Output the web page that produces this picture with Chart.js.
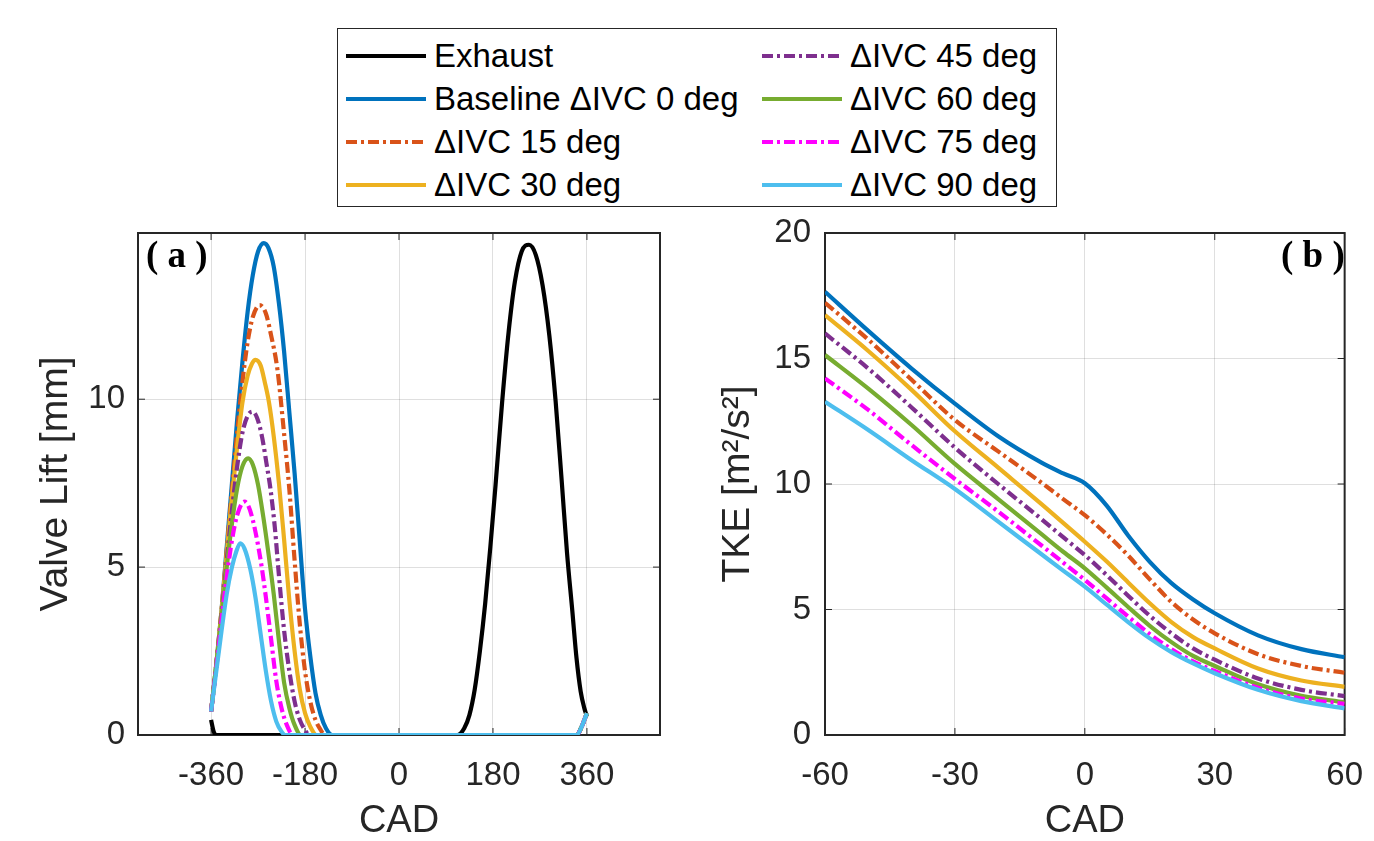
<!DOCTYPE html>
<html lang="en">
<head>
<meta charset="UTF-8">
<title>Valve lift and TKE vs CAD</title>
<style>
  body { margin: 0; background: #fff; font-family: "Liberation Sans", Arial, sans-serif; }
  #wrap { position: relative; width: 1374px; height: 841px; overflow: hidden; background: #fff; }
  canvas { position: absolute; }
  #chartA { left: 0; top: 190px; }
  #chartB { left: 690px; top: 190px; }
  #legend { position: absolute; left: 337px; top: 28px; width: 718px; height: 177px; border: 1.5px solid #262626; background: #fff; }
  .item { position: absolute; height: 40px; display: flex; align-items: center; font-size: 33px; color: #000; white-space: nowrap; }
  .item svg { margin-right: 8px; }
  .tag { position: absolute; top: 236px; font-family: "Liberation Serif", "Times New Roman", serif; font-weight: bold; font-size: 37px; line-height: 1; color: #000; white-space: pre; }
</style>
</head>
<body>
<div id="wrap">
  <div id="legend"></div>
  <canvas id="chartA" width="690" height="651"></canvas>
  <canvas id="chartB" width="694" height="651"></canvas>
  <div class="tag" style="left:146px">( a )</div>
  <div class="tag" style="left:1281px">( b )</div>
</div>

<script src="https://cdn.jsdelivr.net/npm/chart.js"></script>
<script>
  // legend / series
  const names = ["Exhaust", "Baseline \u0394IVC 0 deg", "\u0394IVC 15 deg", "\u0394IVC 30 deg",
                 "\u0394IVC 45 deg", "\u0394IVC 60 deg", "\u0394IVC 75 deg", "\u0394IVC 90 deg"];
  const colors = ["#000000", "#0072BD", "#D95319", "#EDB120", "#7E2F8E", "#77AC30", "#FF00FF", "#4DBEEE"];
  const dashes = [[], [], [11, 4, 3, 4], [], [11, 4, 3, 4], [], [11, 4, 3, 4], []];

  // (a) valve lift [mm] vs CAD
  const xTicksA = [-360, -180, 0, 180, 360];
  const yTicksA = [0, 5, 10];

  const cadEx  = [-360, -355, -350, 112, 125, 135, 145, 155, 165, 175, 185, 197.5, 210, 222, 235, 249, 262, 275, 288, 300, 312, 322, 332, 340, 348, 355, 360];
  const liftEx = [0.45, 0.1, 0, 0, 0.2, 0.6, 1.35, 2.5, 3.9, 5.6, 7.45, 9.9, 12.0, 13.5, 14.4, 14.6, 14.3, 13.4, 11.9, 9.95, 7.5, 5.4, 3.7, 2.3, 1.3, 0.8, 0.55];

  const cad0  = [-360, -350, -340, -330, -320, -310, -300, -290, -280, -270, -259, -250, -240, -230, -220, -210, -200, -190, -180, -170, -160, -150, -140, -128, 340, 350, 360];
  const lift0 = [0.7, 2.1, 3.7, 5.6, 7.5, 9.4, 11.1, 12.6, 13.7, 14.4, 14.65, 14.5, 13.95, 12.85, 11.4, 9.6, 7.8, 5.75, 3.75, 2.35, 1.25, 0.6, 0.2, 0, 0, 0.25, 0.65];

  const cad15  = [-360, -350, -340, -330, -320, -310, -300, -290, -280, -267, -255, -245, -233, -220, -210, -200, -190, -180, -170, -160, -150, -143, 340, 350, 360];
  const lift15 = [0.7, 2.1, 3.7, 5.5, 7.3, 9.0, 10.5, 11.7, 12.45, 12.8, 12.55, 11.9, 10.9, 8.95, 7.3, 5.2, 3.3, 1.9, 1.0, 0.45, 0.15, 0, 0, 0.25, 0.65];

  const cad30  = [-360, -350, -340, -330, -320, -310, -300, -290, -282, -275, -265, -257, -249, -240, -230, -220, -210, -200, -190, -180, -170, -158, 340, 350, 360];
  const lift30 = [0.7, 2.1, 3.7, 5.4, 7.1, 8.6, 9.9, 10.7, 11.05, 11.17, 11.0, 10.5, 9.9, 8.9, 7.5, 5.8, 4.0, 2.5, 1.35, 0.65, 0.25, 0, 0, 0.25, 0.65];

  const cad45  = [-360, -350, -340, -330, -320, -310, -300, -290, -281, -272, -262, -254, -246, -238, -230, -220, -210, -200, -190, -180, -173, 340, 350, 360];
  const lift45 = [0.7, 2.1, 3.6, 5.2, 6.7, 8.0, 9.0, 9.5, 9.63, 9.45, 8.85, 8.1, 7.3, 6.2, 4.75, 3.1, 1.9, 1.0, 0.45, 0.15, 0, 0, 0.25, 0.65];

  const cad60  = [-360, -350, -340, -330, -320, -310, -300, -289, -280, -270, -260, -250, -240, -230, -220, -210, -200, -188, 340, 350, 360];
  const lift60 = [0.7, 2.1, 3.5, 5.0, 6.3, 7.35, 8.0, 8.24, 8.05, 7.45, 6.5, 5.4, 4.2, 2.8, 1.55, 0.8, 0.3, 0, 0, 0.25, 0.65];

  const cad75  = [-360, -350, -340, -330, -320, -310, -296, -288, -280, -270, -263, -255, -245, -235, -225, -215, -203, 340, 350, 360];
  const lift75 = [0.7, 2.0, 3.4, 4.7, 5.8, 6.55, 6.95, 6.8, 6.4, 5.65, 5.0, 4.1, 2.85, 1.6, 0.8, 0.3, 0, 0, 0.25, 0.65];

  const cad90  = [-360, -350, -340, -330, -320, -312, -304, -296, -285, -275, -265, -255, -245, -235, -225, -218, 340, 350, 360];
  const lift90 = [0.7, 1.9, 3.1, 4.2, 5.0, 5.45, 5.71, 5.55, 4.95, 4.1, 3.0, 1.9, 1.0, 0.4, 0.1, 0, 0, 0.25, 0.65];

  // (b) TKE [m2/s2] vs CAD
  const cadB    = [-60, -50, -40, -30, -20, -10, -5, 0, 5, 10, 15, 20, 25, 30, 40, 50, 60];
  const tkeBase = [17.66, 16.1, 14.6, 13.2, 11.9, 10.85, 10.42, 10.03, 9.15, 7.95, 6.9, 6.05, 5.4, 4.85, 3.97, 3.42, 3.1];
  const tke15   = [17.22, 15.75, 14.15, 12.55, 11.3, 10.05, 9.4, 8.76, 8.0, 7.15, 6.2, 5.3, 4.6, 4.05, 3.22, 2.75, 2.48];
  const tke30   = [16.73, 15.3, 13.75, 12.1, 10.65, 9.2, 8.45, 7.7, 6.92, 6.08, 5.25, 4.5, 3.9, 3.45, 2.65, 2.17, 1.92];
  const tke45   = [16.0, 14.6, 13.05, 11.45, 10.0, 8.6, 7.88, 7.17, 6.38, 5.55, 4.75, 4.05, 3.45, 3.0, 2.25, 1.8, 1.55];
  const tke60   = [15.14, 13.8, 12.35, 10.8, 9.4, 8.0, 7.3, 6.64, 5.88, 5.1, 4.35, 3.7, 3.15, 2.75, 2.02, 1.56, 1.3];
  const tke75   = [14.21, 12.95, 11.55, 10.2, 8.9, 7.55, 6.87, 6.18, 5.45, 4.72, 4.02, 3.42, 2.93, 2.55, 1.88, 1.45, 1.24];
  const tke90   = [13.28, 12.15, 10.95, 9.8, 8.5, 7.2, 6.55, 5.91, 5.2, 4.5, 3.85, 3.3, 2.85, 2.46, 1.8, 1.35, 1.06];

  const family = "'Liberation Sans', Arial, sans-serif";
  const axisColor = "#262626";
  const gridColor = "rgba(38,38,38,0.15)";

  // legend box (two columns, filled column-wise)
  const legend = document.getElementById("legend");
  names.forEach((name, i) => {
    const col = Math.floor(i / 4), row = i % 4;
    const item = document.createElement("div");
    item.className = "item";
    item.style.left = (col ? 424 : 8) + "px";
    item.style.top = (7 + row * 43) + "px";
    item.innerHTML = '<svg width="80" height="40"><line x1="0" y1="20" x2="80" y2="20" stroke="' + colors[i] +
      '" stroke-width="4" stroke-dasharray="' + dashes[i].join(" ") + '"/></svg>';
    const span = document.createElement("span");
    span.textContent = name;
    item.appendChild(span);
    legend.appendChild(item);
  });

  // box + inward tick marks, drawn under the curves
  const framePlugin = {
    id: "frame",
    beforeDatasetsDraw(chart) {
      const { ctx, chartArea: a, scales } = chart;
      ctx.save();
      ctx.strokeStyle = axisColor;
      ctx.lineWidth = 1;
      ctx.beginPath();
      scales.x.ticks.forEach(t => {
        const px = scales.x.getPixelForValue(t.value);
        ctx.moveTo(px, a.bottom); ctx.lineTo(px, a.bottom - 7);
        ctx.moveTo(px, a.top); ctx.lineTo(px, a.top + 7);
      });
      scales.y.ticks.forEach(t => {
        const py = scales.y.getPixelForValue(t.value);
        ctx.moveTo(a.left, py); ctx.lineTo(a.left + 7, py);
        ctx.moveTo(a.right, py); ctx.lineTo(a.right - 7, py);
      });
      ctx.stroke();
      ctx.lineWidth = 2;
      ctx.strokeRect(a.left, a.top, a.right - a.left, a.bottom - a.top);
      ctx.restore();
    }
  };

  const pairs = (xs, ys) => xs.map((x, i) => ({ x: x, y: ys[i] }));

  function makeSets(list) {
    const off = names.length - list.length;
    return list.map(([xs, ys], j) => {
      const i = j + off;
      return {
        label: names[i],
        data: pairs(xs, ys),
        borderColor: colors[i],
        borderDash: dashes[i],
        borderWidth: 4.2,
        pointRadius: 0,
        cubicInterpolationMode: "monotone",
        order: list.length - 1 - j
      };
    });
  }

  function scaleOpts(min, max, tickVals, title, isY, size, titlePad, tickPad) {
    return {
      type: "linear",
      min: min,
      max: max,
      afterBuildTicks: s => { s.ticks = tickVals.map(v => ({ value: v })); },
      afterFit: s => { if (isY) s.width = size; else s.height = size; },
      grid: { color: gridColor, lineWidth: 1, drawTicks: false },
      border: { display: false },
      ticks: { color: axisColor, font: { size: 33, family: family }, padding: tickPad, maxRotation: 0, autoSkip: false },
      title: {
        display: true, text: title, color: axisColor,
        font: { size: isY ? 39 : 38, family: family, lineHeight: 1 },
        padding: isY ? { top: titlePad, bottom: 0 } : { top: 0, bottom: titlePad }
      }
    };
  }

  function baseOptions(pad, xs, ys) {
    return {
      responsive: false,
      animation: false,
      devicePixelRatio: 1,
      layout: { padding: pad },
      plugins: { legend: { display: false }, tooltip: { enabled: false } },
      scales: { x: xs, y: ys }
    };
  }

  new Chart(document.getElementById("chartA"), {
    type: "line",
    data: {
      datasets: makeSets([[cadEx, liftEx], [cad0, lift0], [cad15, lift15], [cad30, lift30],
                          [cad45, lift45], [cad60, lift60], [cad75, lift75], [cad90, lift90]])
    },
    options: baseOptions({ top: 43, right: 30, left: 0, bottom: 0 },
      scaleOpts(-500, 500, xTicksA, "CAD", false, 106, 0, 21),
      scaleOpts(0, 14.95, yTicksA, "Valve Lift [mm]", true, 138, 37, 13)),
    plugins: [framePlugin]
  });

  const xTicksB = [-60, -30, 0, 30, 60];
  const yTicksB = [0, 5, 10, 15, 20];

  // the last x label ("60") plus tick padding sets the right margin here
  new Chart(document.getElementById("chartB"), {
    type: "line",
    data: {
      datasets: makeSets([[cadB, tkeBase], [cadB, tke15], [cadB, tke30], [cadB, tke45],
                          [cadB, tke60], [cadB, tke75], [cadB, tke90]])
    },
    options: baseOptions({ top: 43, right: 0, left: 0, bottom: 0 },
      scaleOpts(-60, 60, xTicksB, "CAD", false, 106, 0, 21),
      scaleOpts(0, 20, yTicksB, "TKE [m\u00B2/s\u00B2]", true, 135, 29, 14)),
    plugins: [framePlugin]
  });
</script>
</body>
</html>
